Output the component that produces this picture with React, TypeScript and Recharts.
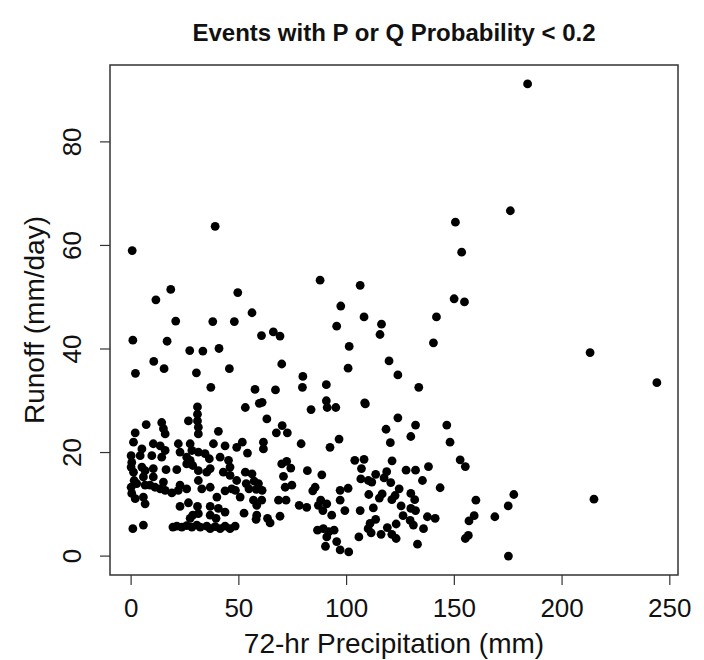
import { ScatterChart, Scatter, XAxis, YAxis, ReferenceArea, Label } from 'recharts'

// 72-hr precipitation (mm) / runoff (mm/day), same order in both arrays
const outlierPrecip = [184, 176, 150.5, 39, 0.5, 153.4, 149.9, 154.7, 213, 244, 214.8, 175.1]
const outlierRunoff = [91.2, 66.7, 64.5, 63.7, 59.0, 58.7, 49.7, 49.1, 39.3, 33.5, 11.0, 0]

const highPrecip = [
  18.4, 11.5, 49.5, 20.7, 37.9, 47.9, 0.8, 16.7, 27.2, 33.3, 40.8, 10.5, 15.3, 2, 30.3, 45.6, 37, 30.8,
  87.7, 97.3, 56.1, 95.4, 60.5, 66, 69.1, 101.2, 69.9, 100.7, 79.7, 79.5, 90.6, 57.5, 67, 90.6, 59.5, 60.8, 53, 83.5, 91, 95,
  106.3, 108.1, 116.2, 115.5, 141.7, 140.3, 119.7, 123.8, 133.5, 108.4, 108.7,
]
const highRunoff = [
  51.5, 49.5, 50.9, 45.4, 45.3, 45.3, 41.7, 41.5, 39.7, 39.6, 40.1, 37.6, 36.2, 35.3, 35.4, 36.2, 32.6, 28.8,
  53.3, 48.3, 47.0, 44.4, 42.6, 43.3, 42.5, 40.5, 37.1, 36.3, 34.7, 32.6, 33.1, 32.2, 32.1, 30, 29.5, 29.7, 28.7, 28.3, 28.7, 28.7,
  52.3, 46.2, 44.8, 42.8, 46.2, 41.2, 37.7, 35, 32.6, 29.6, 29.4,
]

const lowPrecip = [
  // 150-180 mm
  152.7, 155.1, 177.6, 160, 175, 159.2, 156.8, 168.8, 156.5, 155.1,
  // 95-150 mm
  123.8, 118.3, 132, 129.8, 120.3, 146.5, 148, 96.5, 103.8, 108.1, 121.1, 106.9, 113.5, 118.6, 127.6, 132, 138,
  106.6, 110.1, 111.7, 117.4, 120.5, 135.2, 143.4, 100.7, 110.3, 116.5, 115.2, 124.4, 122.5, 121, 129.8, 131.6,
  97, 99.2, 106.3, 112.4, 125.3, 129.8, 132, 126.2, 113.5, 110.9, 110, 111.4, 118.9, 123, 129.5, 131, 137.5,
  141.1, 135.7, 116, 121, 123, 105.7, 132.9, 97, 101, 97,
  // 48-95 mm
  63, 70.1, 67.4, 72.5, 78.9, 92.3, 51.6, 61.4, 61.4, 54, 69.9, 72.2, 74.1, 81.8, 88.5, 70.7, 53, 56.1, 49,
  53.4, 57.1, 59.1, 54.7, 58.1, 60.8, 48.4, 50.6, 71.5, 74.6, 85.4, 84.3, 68.4, 71.9, 56.8, 60.6, 58.3, 78,
  81.5, 88, 86.9, 89, 90.8, 93.1, 52.4, 58.3, 58, 63.3, 64.5, 69.1, 86.5, 89.2, 91.7, 94.2, 90.8, 95.4, 90.2,
  // 0-50 mm
  30.8, 30.8, 31.2, 31.2, 26.6, 7, 14.2, 15, 15.8, 40.5, 1.9, 1.1, 10.3, 13.5, 15.8, 21.9, 22.7, 27.4, 28.2,
  31.2, 38.2, 43.6, 49, 5, 4.2, 34.3, 36.3, 41.3, 0, 0.3, 0, 9.6, 14.2, 25.8, 27.4, 25.8, 28.6, 45.2, 45.9,
  5, 6.5, 10.3, 10.3, 16.2, 21.2, 1.1, 1.4, 2.6, 31.2, 35.1, 36.7, 42.8, 45.9, 5.7, 6.5, 8.8, 11.1, 15, 13.5,
  31.2, 32.8, 22.7, 25.8, 21.9, 36.7, 39.8, 43.6, 46.7, 0, 0.3, 1.9, 15.8, 18.9, 5.7, 6.5, 22.7, 26.6, 30.8,
  36.7, 40.5, 31.2, 28.6, 27.4, 36.7, 39.4, 43.6, 19.4, 21.2, 23.5, 25.8, 28.2, 30.5, 32.1, 35.1, 36.7, 39,
  41.3, 43.6, 45.9, 48.3, 0.8, 5.7,
]
const lowRunoff = [
  18.6, 17.3, 11.9, 10.8, 9.7, 7.8, 6.8, 7.6, 4.0, 3.4,
  26.7, 24.5, 25.3, 23.1, 21.9, 25.3, 22, 22.6, 18.5, 18.7, 18.4, 16.9, 15.8, 16.3, 16.6, 16.6, 17.3,
  14.9, 14.6, 14.3, 15.1, 14.2, 14.6, 13.2, 13.1, 11.9, 12.0, 11.2, 13, 11.7, 10.9, 12.1, 10.9,
  10.8, 8.8, 8.8, 9.3, 9.7, 9.2, 8.8, 7.8, 7.1, 6.3, 5.3, 4.5, 5.5, 6.2, 6.9, 6, 7.6,
  7.3, 5.3, 4.2, 4.2, 3.4, 3.7, 2.3, 1.2, 0.8, 12.7,
  26.5, 25.2, 23.8, 23.8, 21.7, 21, 22, 22, 20.7, 19.9, 17.8, 18.3, 17, 16.5, 15.7, 15.4, 16.2, 15.9, 14.6,
  14, 14.5, 14, 13, 12.9, 12.7, 12.7, 11.4, 13.3, 13.7, 13.3, 12.6, 10.8, 10.8, 10.8, 10.8, 9.8, 9.8,
  9.4, 10.8, 9.8, 8.8, 10.1, 7.9, 8.3, 7.9, 7.1, 7.3, 6.4, 7.7, 5, 5.3, 4.7, 5, 3.7, 2.8, 1.9,
  27.4, 26.1, 24.9, 23.6, 26.1, 25.4, 25.8, 24.6, 23.6, 24.1, 23.8, 22, 21.7, 21.3, 20.4, 21.7, 20.1, 21.7, 20.4,
  20.1, 21.7, 21.3, 21, 20.7, 19.4, 19.8, 18.8, 19.1, 19.4, 18.1, 17.2, 19.4, 19.1, 19.1, 18.5, 17.8, 17.5, 18.5, 17.2,
  17.2, 16.5, 16.9, 15.3, 16.7, 16.7, 16.2, 14.6, 14, 16.5, 16.2, 16.9, 16.2, 15.6, 15.3, 13.7, 13.7, 13.3, 14.3, 13,
  14.6, 13, 13.7, 13, 12.7, 13.3, 11.4, 12.6, 13, 13.3, 12.1, 11.1, 12.7, 12.2, 11.4, 10.1, 9.6, 10.3, 9.6,
  9.6, 9.2, 8.2, 7.9, 7.3, 7.9, 7.3, 8.5, 5.6, 5.8, 5.6, 5.9, 5.6, 6.0, 5.6, 5.8, 5.3, 5.7,
  5.3, 5.8, 5.3, 5.8, 5.3, 6,
]

const xTicks = [0, 50, 100, 150, 200, 250]
const yTicks = [0, 20, 40, 60, 80]

const precip = [...outlierPrecip, ...highPrecip, ...lowPrecip]
const runoff = [...outlierRunoff, ...highRunoff, ...lowRunoff]
const points = precip.map((p, i) => ({ precip: p, runoff: runoff[i] }))

const X_DOMAIN: [number, number] = [-9.8, 253.8]
const Y_DOMAIN: [number, number] = [-3.65, 94.85]
const FONT = '"Liberation Sans", Arial, Helvetica, sans-serif'

const XTick = (props: any) => (
  <text x={props.x} y={props.y} dy={30} textAnchor="middle" fontSize={26} fontFamily={FONT} fill="#111">
    {props.payload.value}
  </text>
)

const YTick = (props: any) => (
  <text
    transform={`translate(${props.x - 17},${props.y}) rotate(-90)`}
    textAnchor="middle"
    fontSize={26}
    fontFamily={FONT}
    fill="#111"
  >
    {props.payload.value}
  </text>
)

const Dot = (props: any) => <circle cx={props.cx} cy={props.cy} r={4.4} fill="#000" />

export default function App() {
  return (
    <div style={{ position: 'absolute', left: 0, top: 0, width: 704, height: 660, background: '#fff' }}>
      <div
        style={{
          position: 'absolute', left: 110, top: 19, width: 568, lineHeight: '28px', textAlign: 'center',
          fontFamily: FONT, fontWeight: 'bold', fontSize: 24, color: '#111',
        }}
      >
        Events with P or Q Probability &lt; 0.2
      </div>
      <ScatterChart width={704} height={660} margin={{ top: 65, right: 26, left: 0, bottom: 0 }}>
        <XAxis
          type="number" dataKey="precip" domain={X_DOMAIN} ticks={xTicks} height={85}
          axisLine={false} tickSize={10} tickLine={{ stroke: '#333', strokeWidth: 1.2 }} tick={<XTick />}
        >
          <Label
            content={(p: any) => {
              const vb = p.viewBox || { x: 110, y: 575, width: 568 }
              return (
                <text x={vb.x + vb.width / 2} y={vb.y + 78} textAnchor="middle" fontSize={28} fontFamily={FONT} fill="#111">
                  72-hr Precipitation (mm)
                </text>
              )
            }}
          />
        </XAxis>
        <YAxis
          type="number" dataKey="runoff" domain={Y_DOMAIN} ticks={yTicks} width={110}
          axisLine={false} tickSize={10} tickLine={{ stroke: '#333', strokeWidth: 1.2 }} tick={<YTick />}
        >
          <Label
            content={(p: any) => {
              const vb = p.viewBox || { x: 0, y: 65, height: 510 }
              return (
                <text
                  transform={`translate(${vb.x + 44},${vb.y + vb.height / 2}) rotate(-90)`}
                  textAnchor="middle" fontSize={28} fontFamily={FONT} fill="#111"
                >
                  Runoff (mm/day)
                </text>
              )
            }}
          />
        </YAxis>
        <ReferenceArea
          x1={X_DOMAIN[0]} x2={X_DOMAIN[1]} y1={Y_DOMAIN[0]} y2={Y_DOMAIN[1]}
          fill="none" stroke="#333" strokeWidth={1.5} fillOpacity={0}
        />
        <Scatter data={points} shape={<Dot />} isAnimationActive={false} />
      </ScatterChart>
    </div>
  )
}
